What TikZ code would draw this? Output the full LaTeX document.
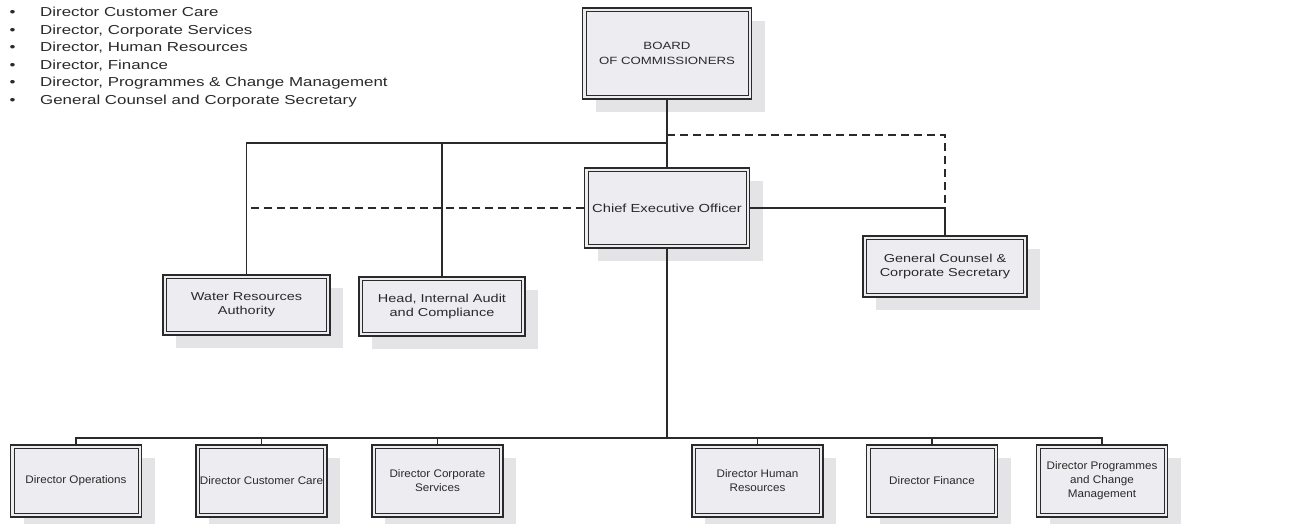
\documentclass[tikz,border=0pt]{standalone}
\usepackage{fontspec}
\setmainfont{Liberation Sans}
\newfontfamily\flist{Liberation Sans}[FakeStretch=1.3]
\newfontfamily\fmid{Liberation Sans}[FakeStretch=1.26]
\newfontfamily\fbot{Liberation Sans}[FakeStretch=1.06]
\usetikzlibrary{shadows}
\definecolor{boxfill}{HTML}{EDECF1}
\definecolor{shade}{HTML}{E4E4E6}
\definecolor{ink}{HTML}{2A2A2A}
\tikzset{
  orgbox/.style={draw=ink, line width=1.6pt,
    fill=boxfill, align=center, text=ink, inner sep=2pt,
    path picture={\draw[ink, line width=0.8pt]
      ([shift={(3.4pt,3.4pt)}]path picture bounding box.south west) rectangle
      ([shift={(-3.4pt,-3.4pt)}]path picture bounding box.north east);},
    drop shadow={shadow xshift=13pt, shadow yshift=-13pt, fill=shade, opacity=1}},
  midbox/.style={orgbox, font=\fmid\fontsize{11.5}{14.3}\selectfont},
  botbox/.style={orgbox, minimum width=131pt, minimum height=72pt,
    font=\fbot\fontsize{11}{14}\selectfont},
  conn/.style={draw=ink, line width=1.1pt},
  dashconn/.style={conn, dash pattern=on 8pt off 5pt},
  listitem/.style={anchor=base west, inner sep=0pt, text=ink,
    font=\flist\fontsize{13}{17}\selectfont}
}
\begin{document}
\begin{tikzpicture}[x=1pt,y=-1pt]
\useasboundingbox (0,0) rectangle (1311,523);
% bullet list
\foreach \t [count=\i] in {Director Customer Care,
  {Director, Corporate Services},
  {Director, Human Resources},
  {Director, Finance},
  {Director, Programmes \& Change Management},
  General Counsel and Corporate Secretary}
  \node[listitem] (li\i) at (9.5,{16.7+17.5*(\i-1)}) {\makebox[30.5pt][l]{\textbullet}\t};
% boxes
\node[orgbox, minimum width=169pt, minimum height=91pt,
  font=\fmid\fontsize{10.5}{15}\selectfont] (board) at (667,53.5) {BOARD\\OF COMMISSIONERS};
\node[orgbox, minimum width=165pt, minimum height=80pt,
  font=\fmid\fontsize{11.7}{14}\selectfont] (ceo) at (667,208) {Chief Executive Officer};
\node[midbox, minimum width=164pt, minimum height=61pt] (gc) at (945,266.5) {General Counsel \&\\Corporate Secretary};
\node[midbox, minimum width=167pt, minimum height=60pt] (wra) at (246.5,305) {Water Resources\\Authority};
\node[midbox, minimum width=166pt, minimum height=59pt] (hia) at (442,306.5) {Head, Internal Audit\\and Compliance};
\node[botbox] (do)  at (76,481)    {Director Operations};
\node[botbox] (dcc) at (261.5,481) {Director Customer Care};
\node[botbox] (dcs) at (437.5,481) {Director Corporate\\Services};
\node[botbox] (dhr) at (757.5,481) {Director Human\\Resources};
\node[botbox] (df)  at (932,481)   {Director Finance};
\node[botbox] (dp)  at (1102,481)  {Director Programmes\\and Change\\Management};
% connectors
\coordinate (jb) at (667,143);
\coordinate (jd) at (667,135);
\coordinate (bus) at (667,438);
\draw[conn] (board.south) -- (ceo.north);
\draw[conn] (jb) -| (wra.north);
\draw[conn] (hia.north) -- (hia.north |- jb);
\draw[dashconn] (jd) -| (gc.north |- ceo.east);
\draw[conn] (ceo.east) -| (gc.north);
\draw[dashconn] (ceo.west) -- (wra.north |- ceo.west);
\draw[conn] (ceo.south) -- (bus);
\draw[conn] (do.north) -- (do.north |- bus) -- (dp.north |- bus) -- (dp.north);
\foreach \n in {dcc,dcs,dhr,df} \draw[conn] (\n.north) -- (\n.north |- bus);
\end{tikzpicture}
\end{document}
